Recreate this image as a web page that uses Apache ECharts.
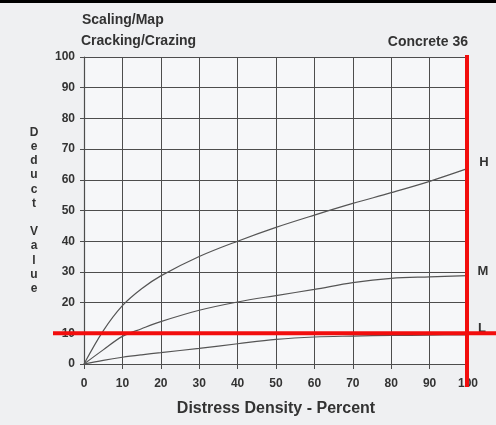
<!DOCTYPE html>
<html>
<head>
<meta charset="utf-8">
<script src="https://cdn.jsdelivr.net/npm/echarts@6/dist/echarts.min.js"></script>
<style>
  html, body { margin: 0; padding: 0; background: #eff0f2; }
  #chart { width: 496px; height: 425px; }
</style>
</head>
<body>
<div id="chart"></div>
<script>
// Deduct value curves for Scaling/Map Cracking/Crazing (Concrete 36)
const density = [0, 5, 10, 15, 20, 30, 40, 50, 60, 70, 80, 90, 100];
const highSeverity = [0, 10.8, 19, 24.5, 28.7, 35, 40, 44.5, 48.5, 52.3, 55.8, 59.5, 63.7];
const mediumSeverity = [0, 4.6, 9, 11.5, 13.8, 17.5, 20.2, 22.3, 24.3, 26.5, 27.9, 28.4, 28.8];
const lowSeverity = [0, 1.2, 2.2, 3, 3.7, 5.1, 6.6, 8, 8.8, 9.1, 9.3, 9.4, 9.5];
const severityNames = ['H', 'M', 'L'];
const xTicks = [0, 10, 20, 30, 40, 50, 60, 70, 80, 90, 100];
const yTicks = [0, 10, 20, 30, 40, 50, 60, 70, 80, 90, 100];
// reference marks drawn in red
const markDensity = 100;
const markDeduct = 10;

const FONT = '"Liberation Sans", Arial, sans-serif';
const INK = '#333';
const GRID = '#4d4d4d';
const CURVE = '#555';

const chart = echarts.init(document.getElementById('chart'), null, { renderer: 'canvas' });

const pairs = (ys) => density.map((x, i) => [x, ys[i]]);
const seriesData = [highSeverity, mediumSeverity, lowSeverity];

const option = {
  backgroundColor: '#eff0f2',
  animation: false,
  grid: { left: 84, right: 28, top: 57, bottom: 61, backgroundColor: '#f6f7f9', show: true, borderWidth: 0 },
  xAxis: {
    type: 'value', min: xTicks[0], max: xTicks[xTicks.length - 1], interval: 10,
    name: 'Distress Density - Percent', nameLocation: 'middle', nameGap: 37,
    nameTextStyle: { fontFamily: FONT, fontSize: 16, fontWeight: 'bold', color: INK },
    axisLine: { show: true, onZero: false, lineStyle: { color: GRID, width: 1.2 } },
    axisTick: { show: true, length: 5, lineStyle: { color: GRID } },
    axisLabel: { margin: 14, fontFamily: FONT, fontSize: 12, fontWeight: 'bold', color: INK },
    splitLine: { show: true, lineStyle: { color: GRID, width: 1 } }
  },
  yAxis: {
    type: 'value', min: yTicks[0], max: yTicks[yTicks.length - 1], interval: 10,
    name: 'D\ne\nd\nu\nc\nt\n\nV\na\nl\nu\ne', nameLocation: 'middle', nameRotate: 0, nameGap: 50,
    nameTextStyle: { fontFamily: FONT, fontSize: 12, fontWeight: 'bold', color: INK, lineHeight: 14.2, align: 'center' },
    axisLine: { show: true, onZero: false, lineStyle: { color: GRID, width: 1.2 } },
    axisTick: { show: true, length: 4, lineStyle: { color: GRID } },
    axisLabel: { margin: 9, fontFamily: FONT, fontSize: 12, fontWeight: 'bold', color: INK },
    splitLine: { show: true, lineStyle: { color: GRID, width: 1 } }
  },
  series: seriesData.map((ys, i) => ({
    name: severityNames[i],
    type: 'line',
    data: pairs(ys),
    smooth: 0.35,
    showSymbol: false,
    lineStyle: { color: CURVE, width: 1.2 },
    z: 3
  }))
};
chart.setOption(option);

// Severity letters at the right end of each curve, and the red reference lines
const topLeft = chart.convertToPixel({ gridIndex: 0 }, [0, 100]);
const bottomRight = chart.convertToPixel({ gridIndex: 0 }, [100, 0]);
const mark = chart.convertToPixel({ gridIndex: 0 }, [markDensity, markDeduct]);
const letterOffsets = [[16, -6], [15, -4], [14, -6]];
const letters = seriesData.map((ys, i) => {
  const p = chart.convertToPixel({ gridIndex: 0 }, [density[density.length - 1], ys[ys.length - 1]]);
  return {
    type: 'text', z: 10,
    x: p[0] + letterOffsets[i][0], y: p[1] + letterOffsets[i][1],
    style: { text: severityNames[i], fontFamily: FONT, fontSize: 13, fontWeight: 'bold', fill: INK, align: 'center', verticalAlign: 'middle' }
  };
});

chart.setOption({
  graphic: [
    { type: 'rect', z: 20, shape: { x: 0, y: 0, width: 496, height: 3 }, style: { fill: '#000' } },
    { type: 'text', z: 10, x: 82, y: 20, style: { text: 'Scaling/Map', fontFamily: FONT, fontSize: 14, fontWeight: 'bold', fill: INK, verticalAlign: 'middle' } },
    { type: 'text', z: 10, x: 81, y: 41, style: { text: 'Cracking/Crazing', fontFamily: FONT, fontSize: 14, fontWeight: 'bold', fill: INK, verticalAlign: 'middle' } },
    { type: 'text', z: 10, x: bottomRight[0], y: 42, style: { text: 'Concrete 36', fontFamily: FONT, fontSize: 14, fontWeight: 'bold', fill: INK, align: 'right', verticalAlign: 'middle' } },
    ...letters,
    { type: 'line', z: 30, shape: { x1: mark[0] - 1, y1: topLeft[1] - 2, x2: mark[0] - 1, y2: bottomRight[1] + 23 }, style: { stroke: '#f20d0d', lineWidth: 4 } },
    { type: 'line', z: 30, shape: { x1: 53, y1: mark[1], x2: 496, y2: mark[1] }, style: { stroke: '#f20d0d', lineWidth: 4 } }
  ]
});
</script>
</body>
</html>
